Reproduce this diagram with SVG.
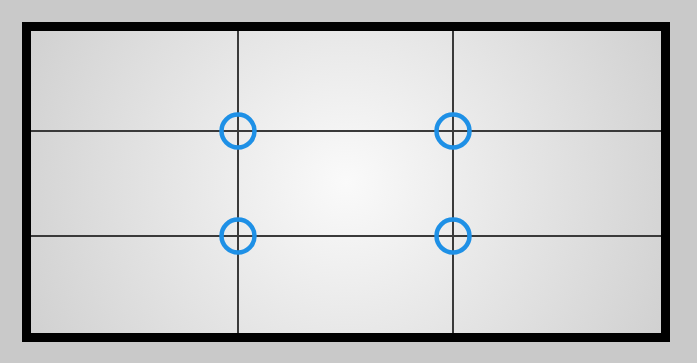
<svg xmlns="http://www.w3.org/2000/svg" width="697" height="363" viewBox="0 0 697 363">
<defs>
<radialGradient id="bg" cx="0.5" cy="0.5" r="0.6" gradientTransform="translate(0,-0.5) scale(1,2)">
<stop offset="0" stop-color="#fafafa"/>
<stop offset="1" stop-color="#cdcdcd"/>
</radialGradient>
<style>
.grid{stroke:#3a3a3a;stroke-width:2;fill:none}
.pt{fill:none;stroke:#1e90e6;stroke-width:4.5}
</style>
</defs>
<rect x="0" y="0" width="697" height="363" fill="#c9c9c9"/>
<rect x="26.5" y="26.5" width="639" height="311" fill="url(#bg)"/>
<g id="connectors">
<line class="grid" x1="238" y1="31" x2="238" y2="333"/>
<line class="grid" x1="453" y1="31" x2="453" y2="333"/>
<line class="grid" x1="31" y1="131" x2="662" y2="131"/>
<line class="grid" x1="31" y1="236" x2="662" y2="236"/>
</g>
<g id="p1"><circle class="pt" cx="238" cy="131" r="16.5"/></g>
<g id="p2"><circle class="pt" cx="453" cy="131" r="16.5"/></g>
<g id="p3"><circle class="pt" cx="238" cy="236" r="16.5"/></g>
<g id="p4"><circle class="pt" cx="453" cy="236" r="16.5"/></g>
<g id="frame"><rect x="26.5" y="26.5" width="639" height="311" fill="none" stroke="#000" stroke-width="9"/></g>
</svg>
